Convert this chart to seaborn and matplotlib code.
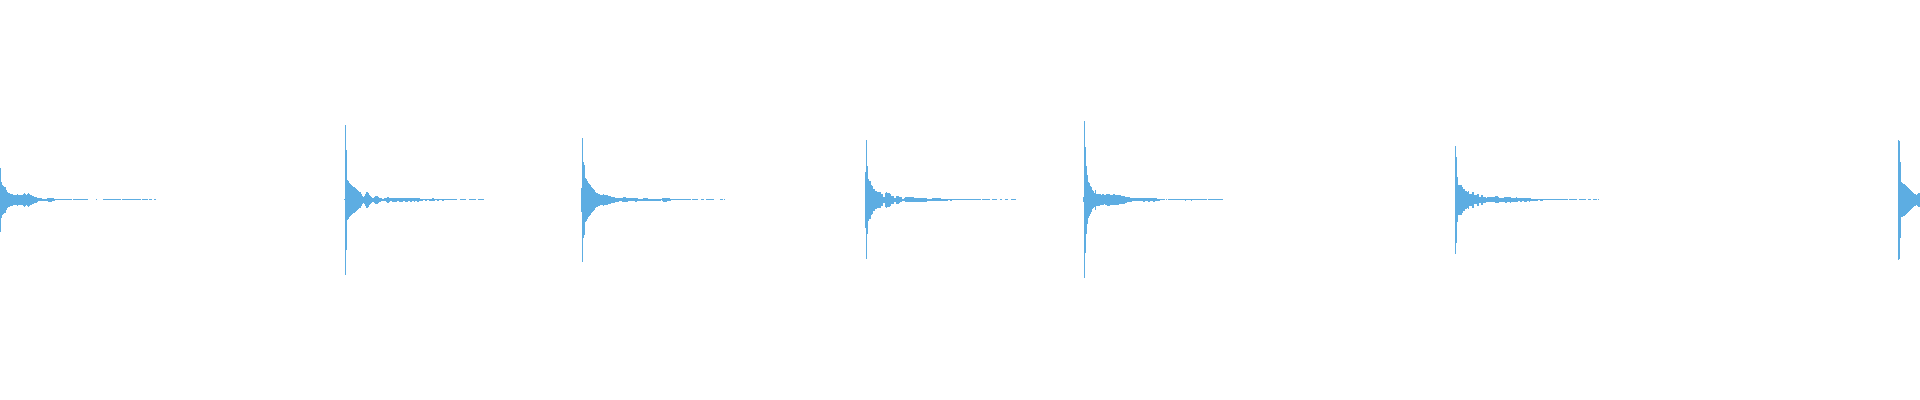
"""
Drum-hit waveform strip: seven percussive onsets, each drawn as a symmetric
amplitude envelope (one value per pixel column, half-height in px).
"""

import numpy as np
import matplotlib
matplotlib.use("Agg")
import matplotlib.pyplot as plt
import seaborn as sns

# ============================================================
# 0. Data (half-height per column)
# ============================================================
onsets = [0, 344, 581, 865, 1083, 1455, 1898]

hit_a = [
    32, 18, 15, 14, 13, 13, 10, 8, 7, 7,
    6, 6, 6, 5, 5, 5, 5, 6, 5, 5,
    5, 5, 5, 6, 7, 6, 5, 6, 7, 6,
    5, 5, 4, 4, 3, 3, 3, 2, 1.5, 1.5,
    1.5, 1.5, 1, 1, 1, 1, 1, 1.5, 2, 2,
    2, 2, 1.5, 1.5, 1, 0.5, 0.5, 0.5, 0.5, 0.5,
    0.5, 0.5, 0.5, 0.5, 0.5, 0.5, 0.5, 0.5, 0.5, 0.5,
    0.5, 0.5, 0, 0.5, 0.5, 0.5, 0.5, 0.5, 0.5, 0.5,
    0.5, 0.5, 0.5, 0.5, 0.5, 0.5, 0.5, 0.5, 0, 0,
    0, 0, 0, 0, 0, 0, 0.5, 0, 0, 0,
    0, 0, 0, 0.5, 0.5, 0.5, 0.5, 0.5, 0.5, 0.5,
    0.5, 0.5, 0.5, 0.5, 0.5, 0.5, 0.5, 0.5, 0.5, 0.5,
    0.5, 0, 0.5, 0.5, 0.5, 0.5, 0.5, 0.5, 0.5, 0.5,
    0.5, 0.5, 0.5, 0.5, 0.5, 0.5, 0.5, 0.5, 0.5, 0.5,
    0.5, 0, 0.5, 0.5, 0.5, 0.5, 0.5, 0.5, 0, 0.5,
    0.5, 0.5, 0, 0, 0.5, 0.5,
]

hit_b = [
    0.5, 75, 50, 20, 19, 17, 16, 15, 14, 13,
    13, 12, 11, 10, 9, 8, 8, 6, 4, 3,
    4, 6, 8, 8, 7, 5, 4, 3, 2, 2,
    3, 4, 4, 4, 3, 2, 2, 1.5, 1, 1,
    1.5, 1.5, 2, 3, 3, 2, 1.5, 1.5, 2, 2,
    2, 2, 2, 1.5, 1.5, 2, 2, 2, 2, 1.5,
    1.5, 2, 2, 2, 1.5, 1.5, 2, 2, 1.5, 1.5,
    2, 1.5, 1.5, 2, 2, 1.5, 1, 1, 1, 0.5,
    0.5, 1, 1, 0.5, 0.5, 1, 1, 1, 1.5, 1.5,
    1, 0.5, 0.5, 1, 1, 0.5, 0.5, 0.5, 1, 1,
    0.5, 0.5, 0.5, 0.5, 0.5, 0.5, 0.5, 0.5, 0.5, 0.5,
    0.5, 0.5, 0.5, 0, 0, 0, 0.5, 0.5, 0.5, 0.5,
    0.5, 0.5, 0, 0, 0, 0.5, 0.5, 0.5, 0.5, 0.5,
    0.5, 0.5, 0, 0, 0.5, 0.5, 0.5, 0.5, 0.5, 0.5,
]

hit_c = [
    12, 62, 38, 35, 22, 21, 19, 17, 16, 15,
    13, 12, 11, 10, 8, 7, 7, 6, 6, 5,
    5, 5, 6, 5, 5, 5, 5, 4, 4, 4,
    3, 3, 3, 3, 2, 2, 2, 2, 1.5, 1.5,
    1.5, 2, 2.5, 2.5, 2.5, 2, 2, 1.5, 1.5, 1.5,
    1.5, 1.5, 1.5, 1.5, 2, 2, 1.5, 1, 1, 1,
    1, 1, 1.5, 1.5, 1.5, 1.5, 1.5, 1, 1, 1,
    1, 1, 1, 1, 1, 1, 1, 1, 1, 1,
    0.5, 1.5, 2, 2, 2, 2, 1.5, 1.5, 1.5, 1,
    0.5, 0.5, 0.5, 0.5, 0.5, 0.5, 0.5, 0.5, 0.5, 0.5,
    0.5, 0.5, 0.5, 0.5, 0.5, 0.5, 0.5, 0.5, 0.5, 0.5,
    0, 0.5, 0.5, 0.5, 0.5, 0.5, 0.5, 0, 0, 0,
    0.5, 0.5, 0.5, 0, 0, 0.5, 0.5, 0.5, 0.5, 0.5,
    0.5, 0.5, 0.5, 0, 0, 0, 0, 0, 0, 0.5,
    0.5, 0.5, 0, 0.5,
]

hit_d = [
    28, 59.5, 34, 21, 19, 19, 15, 14, 11, 11,
    9, 9, 8, 8, 8, 8, 6, 6, 3, 3,
    7, 8, 7, 7, 7, 6, 4, 4, 4, 2,
    2, 4, 4, 4, 3, 2.5, 2.5, 1, 1, 1.5,
    2.5, 2.5, 2.5, 2.5, 2.5, 2.5, 2.5, 2.5, 2.5, 2,
    2, 2, 2, 2, 2, 2, 2, 2, 2, 2,
    2, 2, 1, 1, 1, 1, 1, 1.5, 1.5, 1.5,
    1.5, 1.5, 1.5, 1.5, 1.5, 1.5, 1, 1, 1, 1,
    1, 1, 1, 0.5, 0.5, 1, 1, 0.5, 0.5, 0.5,
    0.5, 0.5, 0.5, 0.5, 0.5, 0.5, 0.5, 0.5, 0.5, 0.5,
    0.5, 0.5, 0.5, 0.5, 0.5, 0.5, 0.5, 0.5, 0.5, 0.5,
    0.5, 0.5, 0.5, 0.5, 0.5, 0.5, 0, 0.5, 0.5, 0.5,
    0.5, 0.5, 0.5, 0.5, 0.5, 0, 0, 0.5, 0.5, 0.5,
    0.5, 0.5, 0, 0, 0, 0.5, 0.5, 0, 0, 0,
    0.5, 0.5, 0.5, 0, 0, 0, 0.5, 0.5, 0.5, 0.5,
    0.5,
]

hit_e = [
    2.5, 78.5, 53, 34, 24.5, 18, 16.5, 14, 12.5, 9.5,
    8.5, 7, 10, 6, 6, 6, 6, 5.5, 5, 5.5,
    5.5, 4.5, 5, 5.5, 6, 6, 6, 5, 5, 5,
    5.5, 5.5, 5, 5, 5, 5, 4.5, 4.5, 4, 4,
    4, 4, 3, 3, 2.5, 2.5, 2.5, 2, 2, 1.5,
    1.5, 1.5, 1.5, 1.5, 1.5, 1.5, 1.5, 1.5, 1.5, 1.5,
    2, 2, 1.5, 1.5, 1.5, 2, 2, 1.5, 1.5, 1.5,
    2, 2, 1.5, 1.5, 1, 1, 1, 0.5, 0.5, 0.5,
    0.5, 0.5, 0, 0.5, 0, 0.5, 0.5, 0.5, 0.5, 0.5,
    0.5, 0.5, 0.5, 0.5, 0.5, 0.5, 0.5, 0.5, 0.5, 0.5,
    0.5, 0.5, 1, 0.5, 0.5, 0.5, 0.5, 0.5, 1, 0.5,
    0.5, 0.5, 0.5, 0.5, 0.5, 0.5, 0.5, 0.5, 0.5, 0.5,
    0.5, 0.5, 0.5, 0.5, 0, 0.5, 0.5, 0.5, 0.5, 0.5,
    0.5, 0.5, 0.5, 0.5, 0.5, 0.5, 0.5, 0.5, 0.5, 0.5,
]

hit_f = [
    54, 43, 22.5, 15, 15, 15, 15, 13, 11, 11,
    9, 9, 8, 9, 6, 6, 6, 8, 8, 4.5,
    4.5, 4.5, 6, 6, 3, 3, 5, 5, 3, 3,
    3, 2, 2.5, 2.5, 2.5, 2.5, 2.5, 2.5, 2.5, 2.5,
    3.5, 3.5, 3.5, 3, 2, 2, 2, 2, 2, 2.5,
    3, 3, 2.5, 2.5, 2.5, 3, 2, 2, 2, 2,
    2, 2.5, 2, 1.5, 1.5, 2, 2, 1.5, 1.5, 2,
    2, 2, 1.5, 1.5, 2, 1.5, 1, 1, 1, 1,
    1, 1, 1, 0.5, 0.5, 1, 1, 1, 0.5, 0.5,
    0.5, 0.5, 0.5, 0.5, 0.5, 0.5, 0.5, 0.5, 0.5, 0.5,
    0.5, 0.5, 0.5, 0.5, 0.5, 0.5, 0.5, 0.5, 0.5, 0.5,
    0.5, 0.5, 0.5, 0, 0.5, 0.5, 0.5, 0.5, 0.5, 0.5,
    0.5, 0.5, 0, 0, 0.5, 0.5, 0.5, 0.5, 0.5, 0.5,
    0.5, 0, 0, 0.5, 0.5, 0.5, 0, 0, 0.5, 0.5,
    0.5, 0.5, 0, 0.5,
]

hit_g = [
    60, 59, 38, 17.5, 17, 16, 16, 15, 14, 13,
    12, 11, 10, 9, 8, 7, 6, 6, 5, 6,
    7, 7,
]

hits = [hit_a, hit_b, hit_c, hit_d, hit_e, hit_f, hit_g]

WAVE_COLOR = "#5DADE2"
WIDTH_PX, HEIGHT_PX, DPI = 1920, 400, 100

# ============================================================
# 1. Plot
# ============================================================
sns.set_theme(style="white")

fig = plt.figure(figsize=(WIDTH_PX / DPI, HEIGHT_PX / DPI), dpi=DPI)
ax = fig.add_axes([0, 0, 1, 1])

for start, amp in zip(onsets, hits):
    amp = np.asarray(amp, dtype=float)
    # step edges: one column per value, last value repeated to close the step
    x = start + np.arange(len(amp) + 1)
    a = np.append(amp, amp[-1])
    ax.fill_between(x, -a, a, step="post", color=WAVE_COLOR, linewidth=0)

ax.set_xlim(0, WIDTH_PX)
ax.set_ylim(-200.5, 199.5)
ax.set_axis_off()
sns.despine(ax=ax, left=True, bottom=True)

fig.savefig("out.png", dpi=DPI, facecolor="white")
plt.close(fig)
